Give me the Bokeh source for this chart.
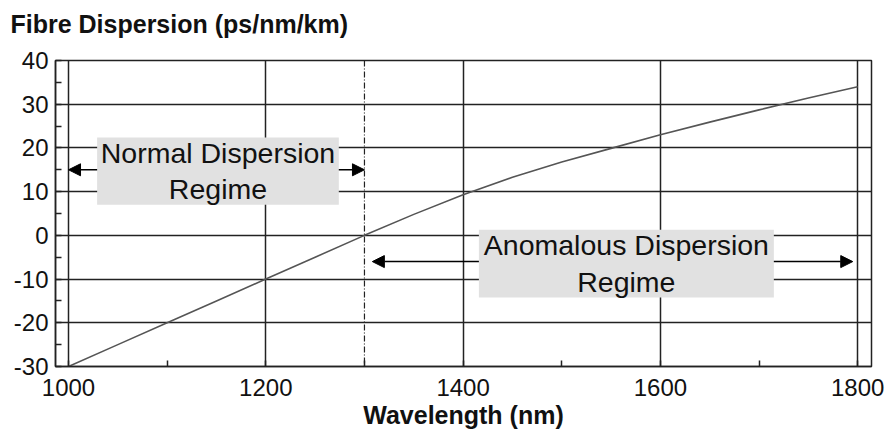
from bokeh.plotting import figure
from bokeh.models import (Range1d, Arrow, NormalHead, Span, SingleIntervalTicker,
                          ColumnDataSource, PrintfTickFormatter, Title)
from bokeh.core.properties import value
from bokeh.embed import file_html
from bokeh.resources import INLINE

# ---- data ----
wavelength = [1000, 1050, 1100, 1150, 1200, 1250, 1300, 1350, 1400, 1450,
              1500, 1550, 1600, 1650, 1700, 1750, 1800]
dispersion = [-30.0, -25.0, -20.0, -15.0, -10.0, -5.0, 0.0, 4.8, 9.3, 13.3,
              16.8, 19.9, 23.0, 25.9, 28.7, 31.4, 34.0]

zero_dispersion_wavelength = 1300

region_labels = ["Normal Dispersion\nRegime", "Anomalous Dispersion\nRegime"]
region_arrow_start = [1000, 1308]
region_arrow_end = [1300, 1795]
region_arrow_y = [15, -6]
region_box_left = [1029, 1416]
region_box_right = [1274, 1715]
region_box_top = [22.4, 1.3]
region_box_bottom = [7.0, -14.2]

x_label = "Wavelength (nm)"
chart_title = "Fibre Dispersion (ps/nm/km)"

FONT = "Liberation Sans"
INK = "#111111"

p = figure(width=889, height=435, output_backend="svg", toolbar_location=None,
           x_range=Range1d(986.8, 1814), y_range=Range1d(-30, 40),
           min_border_left=55, min_border_right=18, min_border_top=60,
           min_border_bottom=69)

# spacer between title and frame
p.add_layout(Title(text=" ", text_font_size="14px", standoff=0), "above")

# title
p.title.text = chart_title
p.title.text_font = FONT
p.title.text_font_style = "bold"
p.title.text_font_size = "25px"
p.title.text_color = INK
p.title.align = "left"
p.title.offset = -45

# axes
xt = SingleIntervalTicker(interval=200, num_minor_ticks=2)
yt = SingleIntervalTicker(interval=10, num_minor_ticks=2)
p.xaxis.ticker = xt
p.yaxis.ticker = yt
p.xgrid.ticker = xt
p.ygrid.ticker = yt
for ax in (p.xaxis[0], p.yaxis[0]):
    ax.formatter = PrintfTickFormatter(format="%d")
    ax.major_tick_in = 0
    ax.major_tick_out = 0
    ax.minor_tick_in = 6
    ax.minor_tick_out = 0
    ax.minor_tick_line_color = "#222222"
    ax.minor_tick_line_width = 1.5
    ax.axis_line_color = "#222222"
    ax.axis_line_width = 1.5
    ax.major_label_text_font = FONT
    ax.major_label_text_font_size = "24px"
    ax.major_label_text_color = INK
p.xaxis.major_label_standoff = 12
p.yaxis.major_label_standoff = 7

for g in (p.xgrid[0], p.ygrid[0]):
    g.grid_line_color = "#222222"
    g.grid_line_width = 1.5
    g.grid_line_alpha = 1.0

p.outline_line_color = "#222222"
p.outline_line_width = 1.5
p.outline_line_alpha = 1.0

# arrows (under boxes)
for xs, xe, y in zip(region_arrow_start, region_arrow_end, region_arrow_y):
    arr = Arrow(x_start=xs, y_start=y, x_end=xe, y_end=y,
                line_color="black", line_width=1.5,
                start=NormalHead(size=12, fill_color="black", line_color="black"),
                end=NormalHead(size=12, fill_color="black", line_color="black"),
                level="underlay")
    p.add_layout(arr)

# region boxes
boxes = ColumnDataSource(dict(left=region_box_left, right=region_box_right,
                              top=region_box_top, bottom=region_box_bottom,
                              label=region_labels,
                              cx=[(a + b) / 2 for a, b in zip(region_box_left, region_box_right)],
                              cy=[(a + b) / 2 for a, b in zip(region_box_top, region_box_bottom)]))
p.quad(left="left", right="right", top="top", bottom="bottom", source=boxes,
       fill_color="#e1e1e1", line_color=None)
p.text(x="cx", y="cy", text="label", source=boxes, text_font=value(FONT),
       text_font_size="28.5px", text_color=INK, text_align="center",
       text_baseline="middle", text_line_height=1.15)

# dispersion curve
p.line(wavelength, dispersion, line_color="#555555", line_width=1.6)

# zero-dispersion marker
p.add_layout(Span(location=zero_dispersion_wavelength, dimension="height",
                  line_color="#222222", line_width=1.2, line_dash="6 2 1 2"))

# x-axis label as a title in the bottom margin
xl = Title(text=x_label, align="center", text_font=FONT, text_font_style="bold",
           text_font_size="25px", text_color=INK, standoff=0)
p.add_layout(xl, "below")

open("out.html", "w").write(file_html(p, INLINE))
